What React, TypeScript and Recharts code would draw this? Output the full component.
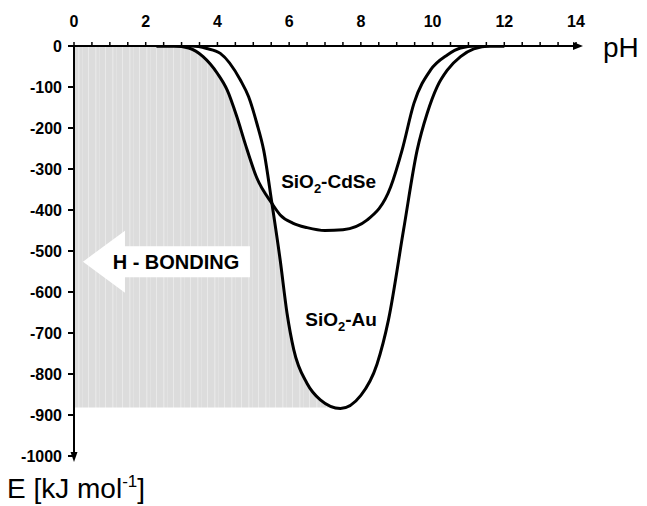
import { ComposedChart, Line, Area, XAxis, YAxis, ReferenceDot } from "recharts";

// axis ticks
const phTicks = [0, 0.5, 1, 1.5, 2, 2.5, 3, 3.5, 4, 4.5, 5, 5.5, 6, 6.5, 7, 7.5, 8, 8.5, 9, 9.5, 10, 10.5, 11, 11.5, 12, 12.5, 13, 13.5, 14];
const phLabels = [0, 2, 4, 6, 8, 10, 12, 14];
const energyTicks = [0, -100, -200, -300, -400, -500, -600, -700, -800, -900, -1000];

// SiO2-CdSe curve
const cdsePh = [2.3, 2.8, 3.2, 3.6, 4.0, 4.27, 4.54, 4.78, 5.1, 5.52, 5.75, 6.1, 6.5, 7.0, 7.5, 8.18, 8.83, 9.15, 9.48, 9.94, 10.41, 10.78, 11.2, 12];
const cdseE = [0, 0, -5, -26, -67, -107, -172, -240, -322, -384, -412, -432, -443, -450, -448, -424, -344, -254, -140, -59, -22, -5, 0, 0];

// SiO2-Au curve
const auPh = [2.3, 3.3, 3.7, 4.08, 4.64, 4.87, 5.1, 5.29, 5.52, 5.75, 5.94, 6.13, 6.5, 6.87, 7.43, 8.0, 8.45, 8.77, 9.19, 9.57, 9.85, 10.13, 10.41, 10.78, 11.15, 11.6, 12];
const auE = [0, 0, -6, -18, -83, -124, -189, -254, -384, -522, -651, -741, -823, -863, -884, -852, -776, -668, -449, -254, -164, -99, -59, -26, -7, 0, 0];

// H-bonding region
const crossingPh = 5.52;
const auMinPh = 7.43;
const shadeBottom = -882;

const cdseData = cdsePh.map((ph, i) => ({ ph, e: cdseE[i] }));
const auData = auPh.map((ph, i) => ({ ph, e: auE[i] }));
const shadeData = [
  { ph: 0, range: [shadeBottom, 0] },
  ...cdseData.filter((d) => d.ph < crossingPh).map((d) => ({ ph: d.ph, range: [shadeBottom, d.e] })),
  ...auData.filter((d) => d.ph >= crossingPh && d.ph <= auMinPh).map((d) => ({ ph: d.ph, range: [shadeBottom, Math.max(d.e, shadeBottom)] })),
];

const curveLabels = [
  { name: "SiO", sub: "2", rest: "-CdSe", ph: 7.1, e: -332 },
  { name: "SiO", sub: "2", rest: "-Au", ph: 7.45, e: -668 },
];
const bondingArrow = { text: "H - BONDING", ph: 0.25, e: -526 };

const W = 647;
const H = 506;
const margin = { top: 16, right: 71, bottom: 50, left: 14 };
const X_AXIS_H = 30;
const Y_AXIS_W = 60;
const PLOT_LEFT = margin.left + Y_AXIS_W;
const PLOT_TOP = margin.top + X_AXIS_H;
const PLOT_RIGHT = W - margin.right;
const PLOT_BOTTOM = H - margin.bottom;

const font = "'Liberation Sans', Arial, Helvetica, sans-serif";

function PhTick({ x, y, payload }: any) {
  if (!phLabels.includes(payload.value)) return <g />;
  return (
    <text x={x} y={y - 13} textAnchor="middle" fontFamily={font} fontWeight="bold" fontSize={16} fill="#000">
      {payload.value}
    </text>
  );
}

function ETick({ x, y, payload }: any) {
  return (
    <text x={x - 4} y={y + 6} textAnchor="end" fontFamily={font} fontWeight="bold" fontSize={16} fill="#000">
      {payload.value}
    </text>
  );
}

function CurveLabel(props: any) {
  const { cx, cy, lbl } = props;
  return (
    <text x={cx} y={cy + 6} textAnchor="middle" fontFamily={font} fontWeight="bold" fontSize={19} fill="#000">
      {lbl.name}
      <tspan dy={5} fontSize={13}>{lbl.sub}</tspan>
      <tspan dy={-5}>{lbl.rest}</tspan>
    </text>
  );
}

function BondingArrow(props: any) {
  const { cx, cy } = props;
  const pts = [
    [0, 0], [42, -31], [42, -15.5], [167, -15.5], [167, 15.5], [42, 15.5], [42, 31],
  ].map(([dx, dy]) => `${cx + dx},${cy + dy}`).join(" ");
  return (
    <g>
      <polygon points={pts} fill="#fff" />
      <text x={cx + 93} y={cy + 7} textAnchor="middle" fontFamily={font} fontWeight="bold" fontSize={20} fill="#000">
        {bondingArrow.text}
      </text>
    </g>
  );
}

export default function App() {
  return (
    <div style={{ position: "absolute", left: 0, top: 0, width: W, height: H, background: "#fff" }}>
      <ComposedChart width={W} height={H} margin={margin}>
        <defs>
          <pattern id="hbond" patternUnits="userSpaceOnUse" width="17" height="10">
            <rect width="17" height="10" fill="#dcdcdc" />
            <rect x="3" width="1" height="10" fill="#e9e9e9" />
            <rect x="10" width="1.5" height="10" fill="#e6e6e6" />
            <rect x="14" width="1" height="10" fill="#e2e2e2" />
          </pattern>
        </defs>
        <XAxis
          dataKey="ph"
          type="number"
          orientation="top"
          domain={[0, 14]}
          ticks={phTicks}
          interval={0}
          height={X_AXIS_H}
          tickSize={4}
          tick={<PhTick />}
          axisLine={{ stroke: "#000", strokeWidth: 2 }}
          tickLine={{ stroke: "#000", strokeWidth: 1.5 }}
          allowDataOverflow
        />
        <YAxis
          type="number"
          domain={[-1000, 0]}
          ticks={energyTicks}
          interval={0}
          width={Y_AXIS_W}
          tickSize={6}
          tick={<ETick />}
          axisLine={{ stroke: "#000", strokeWidth: 2 }}
          tickLine={{ stroke: "#000", strokeWidth: 2 }}
          allowDataOverflow
        />
        <Area
          data={shadeData}
          dataKey="range"
          type="monotone"
          fill="url(#hbond)"
          fillOpacity={1}
          stroke="none"
          isAnimationActive={false}
        />
        <Line data={cdseData} dataKey="e" type="monotone" stroke="#000" strokeWidth={3} dot={false} isAnimationActive={false} />
        <Line data={auData} dataKey="e" type="monotone" stroke="#000" strokeWidth={3} dot={false} isAnimationActive={false} />
        <ReferenceDot x={bondingArrow.ph} y={bondingArrow.e} r={0} shape={(p: any) => <BondingArrow {...p} />} />
        {curveLabels.map((l) => (
          <ReferenceDot key={l.rest} x={l.ph} y={l.e} r={0} shape={(p: any) => <CurveLabel {...p} lbl={l} />} />
        ))}
      </ComposedChart>
      <svg width={W} height={H} style={{ position: "absolute", left: 0, top: 0, pointerEvents: "none" }}>
        <line x1={PLOT_LEFT - 6} y1={PLOT_TOP} x2={PLOT_RIGHT + 2} y2={PLOT_TOP} stroke="#000" strokeWidth={2} />
        <line x1={PLOT_LEFT} y1={PLOT_TOP} x2={PLOT_LEFT} y2={PLOT_BOTTOM} stroke="#000" strokeWidth={2} />
        <polygon points={`${PLOT_RIGHT + 7},${PLOT_TOP} ${PLOT_RIGHT - 3},${PLOT_TOP - 4} ${PLOT_RIGHT - 3},${PLOT_TOP + 4}`} fill="#000" />
        <polygon points={`${PLOT_LEFT},${PLOT_BOTTOM + 6} ${PLOT_LEFT - 3.5},${PLOT_BOTTOM - 4} ${PLOT_LEFT + 3.5},${PLOT_BOTTOM - 4}`} fill="#000" />
        <text x={603} y={57} fontFamily={font} fontSize={28} fill="#000">pH</text>
        <text x={7} y={498} fontFamily={font} fontSize={28} fill="#000">
          E [kJ mol<tspan dy={-11} fontSize={17}>-1</tspan><tspan dy={11}>]</tspan>
        </text>
      </svg>
    </div>
  );
}
